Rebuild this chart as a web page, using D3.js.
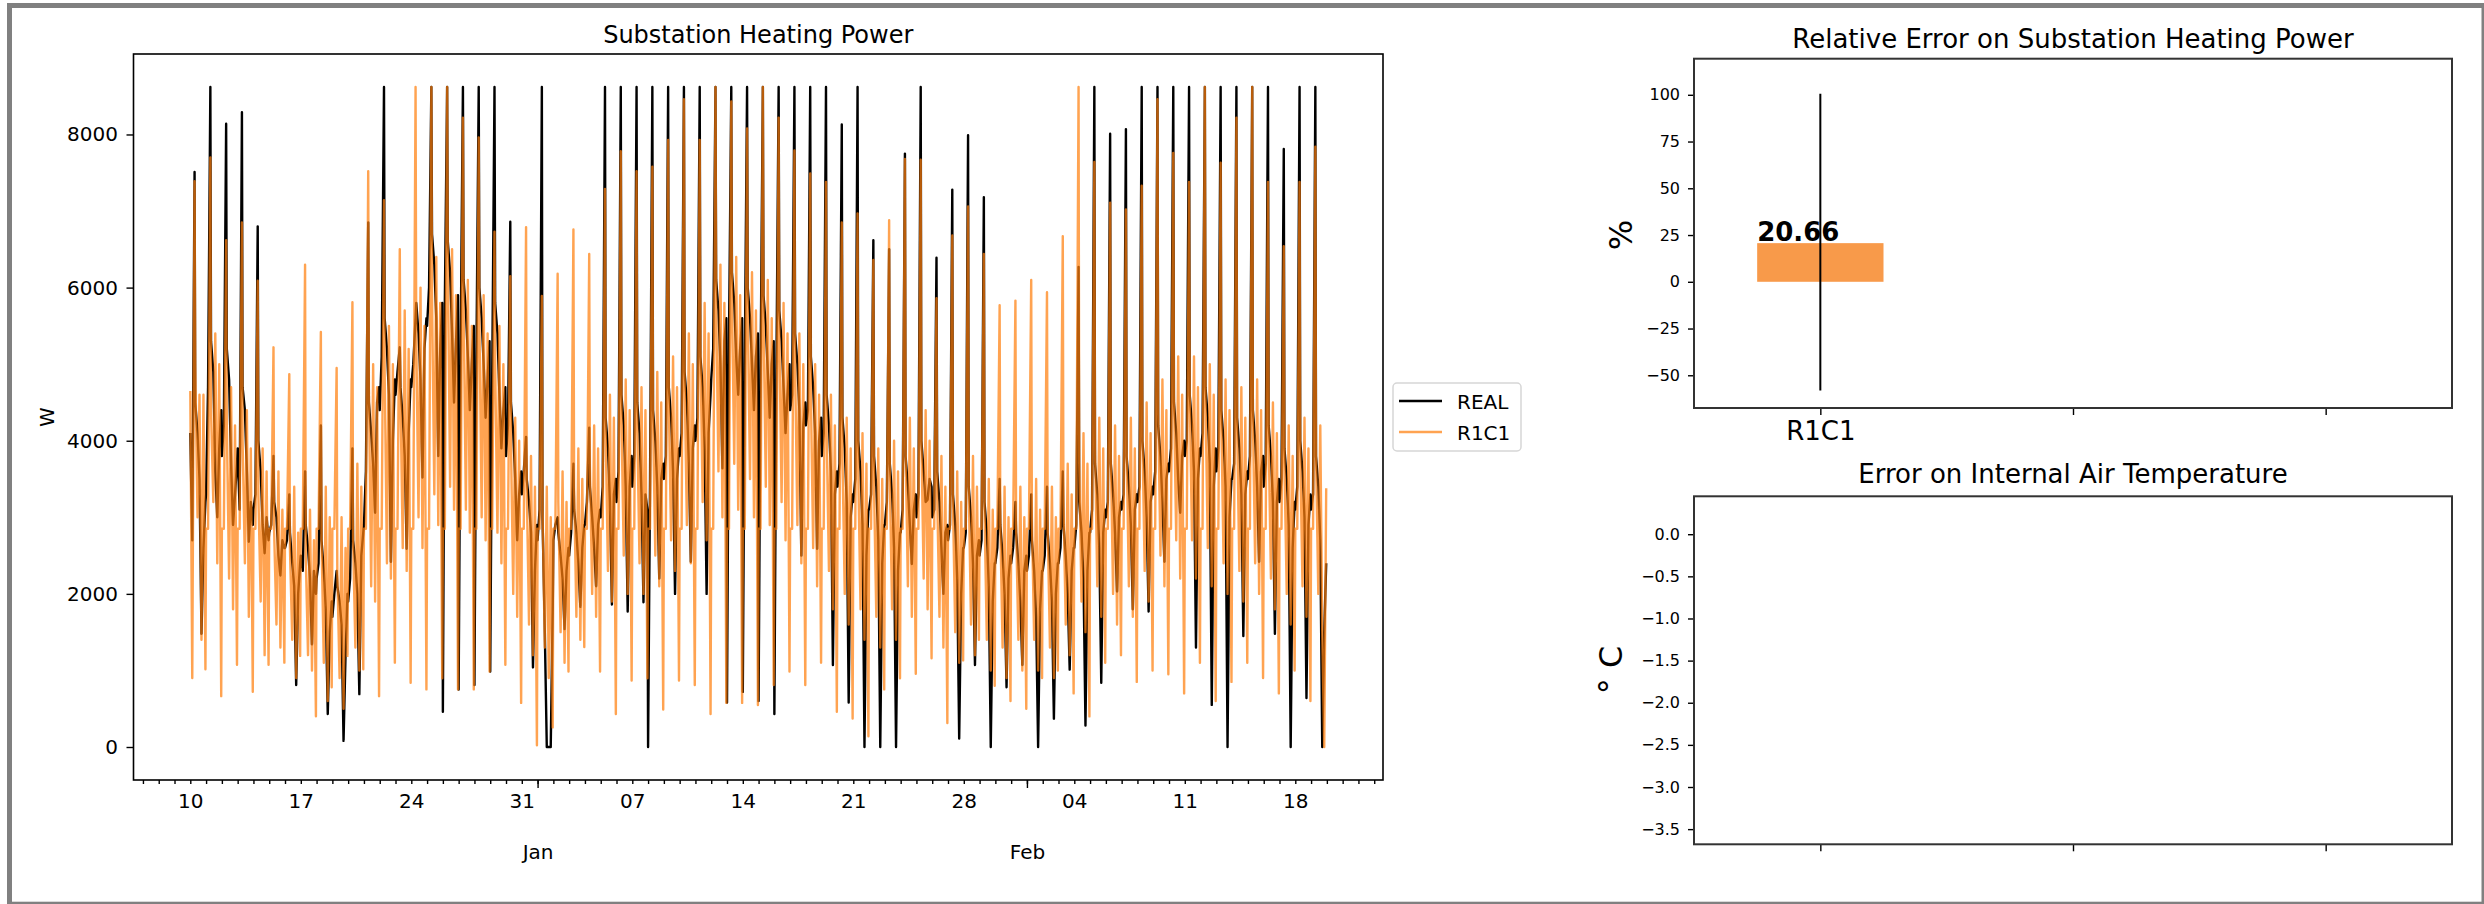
<!DOCTYPE html>
<html>
<head>
<meta charset="utf-8">
<script src="https://cdn.jsdelivr.net/npm/d3@7"></script>
<style>
  body { margin: 0; background: #fff; }
  svg { display: block; font-family: "DejaVu Sans", sans-serif; }
</style>
</head>
<body>
<svg id="chart" width="2484" height="904"></svg>
<script>
// one row per day from 2018-12-10, one value per hour slot
const startDay = Date.UTC(2018, 11, 10);
const hourSlots = [0, 3, 6.5, 7.5, 11, 14, 17, 20, 23];

const realW = [
  4100, 2700, 7510, 4500, 4100, 3500, 1480, 2600, 3200,
  3300, 4700, 8620, 5300, 4900, 3600, 3000, 3900, 4400,
  3800, 4200, 8140, 5200, 4800, 3700, 2900, 3300, 3700,
  3900, 3100, 8290, 4700, 4400, 3600, 2680, 3200, 2900,
  3100, 3300, 6800, 4000, 3600, 2900, 2530, 3000, 2700,
  2800, 2900, 3800, 3200, 3000, 2500, 2240, 2700, 2600,
  2600, 2700, 3300, 2800, 2400, 2100, 810, 2000, 2400,
  2500, 2300, 3600, 2900, 2600, 2200, 1340, 2300, 2000,
  2200, 2400, 4200, 2700, 2300, 1800, 430, 1500, 1900,
  1700, 2000, 2300, 2100, 1900, 1600, 80, 1200, 2000,
  1900, 2200, 3900, 2700, 2400, 2000, 690, 2500, 2800,
  2900, 3600, 6850, 4500, 4100, 3700, 3060, 4500, 4700,
  4400, 5100, 8620, 5600, 5200, 4600, 2420, 4000, 4800,
  4600, 4900, 5220, 4700, 4300, 3800, 2590, 4100, 4800,
  4700, 5000, 5600, 5800, 5400, 4800, 3520, 5200, 5600,
  5500, 6000, 8620, 6700, 6300, 5600, 3800, 5200, 5800,
  460, 5800, 8620, 6600, 6200, 5400, 4500, 5300, 5900,
  750, 5200, 8620, 6100, 5700, 5100, 4400, 5000, 5500,
  810, 5100, 8620, 6000, 5600, 5000, 4300, 4800, 5300,
  985, 4800, 8620, 5800, 5400, 4600, 3900, 4400, 4700,
  3800, 4200, 6860, 4500, 4100, 3500, 2700, 3300, 3600,
  3300, 3600, 4050, 3500, 3200, 2800, 1040, 2300, 2900,
  2700, 3100, 8620, 3000, 1500, 0, 0, 0, 1800,
  2700, 2900, 3000, 2800, 2500, 2200, 1540, 2300, 2600,
  2500, 2800, 3700, 3100, 2800, 2400, 1830, 2600, 2900,
  2900, 3200, 4170, 3400, 3000, 2600, 2100, 2900, 3100,
  3000, 3400, 8620, 4300, 3900, 3200, 1860, 3300, 3500,
  3200, 3600, 8620, 4600, 4200, 3400, 1770, 3400, 3800,
  3400, 3800, 8620, 4500, 4100, 3300, 1890, 3300, 3100,
  0, 3500, 8620, 4400, 4000, 3400, 2200, 3500, 3700,
  3500, 3800, 8620, 4700, 4300, 3600, 2000, 3500, 3900,
  3800, 4100, 8620, 4900, 4500, 3700, 2420, 3900, 4200,
  4000, 4300, 8620, 5100, 4700, 3900, 2000, 4100, 4600,
  4800, 5200, 8620, 6100, 5700, 5000, 3640, 5300, 5600,
  580, 5300, 8620, 6200, 5800, 5100, 4600, 5200, 5600,
  720, 5000, 8620, 6000, 5600, 5000, 4400, 5100, 5400,
  600, 4900, 8620, 5900, 5500, 4900, 4300, 5000, 5300,
  430, 4800, 8620, 5700, 5300, 4700, 4100, 4600, 5000,
  4400, 4600, 8620, 5400, 5000, 4400, 2500, 4200, 4500,
  4200, 4400, 8620, 5100, 4700, 4100, 2590, 4000, 4300,
  3800, 4100, 8620, 4600, 4200, 3600, 1070, 3300, 3600,
  3400, 3700, 8130, 4300, 3900, 3200, 580, 3000, 3300,
  3200, 3500, 8620, 4000, 3600, 2900, 0, 2500, 3100,
  3100, 3300, 6620, 3800, 3400, 2700, 0, 2400, 2900,
  2900, 3200, 6500, 3700, 3300, 2600, 0, 2300, 2800,
  2800, 3100, 7750, 3800, 3400, 2900, 2390, 3100, 3300,
  3000, 3300, 8620, 4000, 3600, 3200, 3230, 3500, 3400,
  3000, 3100, 6390, 3600, 3200, 2600, 2000, 2800, 2900,
  2700, 2900, 7280, 3300, 2900, 2200, 110, 2000, 2600,
  2600, 2800, 7990, 3400, 3000, 2400, 1070, 2500, 2700,
  2500, 2700, 7180, 3200, 2800, 2100, 0, 1900, 2400,
  2400, 2600, 3500, 2900, 2500, 2000, 780, 2200, 2500,
  2400, 2600, 3200, 2800, 2400, 1900, 1070, 2300, 2500,
  2300, 2500, 3300, 2700, 2300, 1700, 0, 1800, 2300,
  2300, 2500, 3400, 2800, 2400, 1900, 370, 2000, 2400,
  2400, 2600, 3600, 2900, 2500, 2000, 1010, 2300, 2600,
  2600, 2900, 6270, 3200, 2800, 2200, 280, 2300, 2800,
  2800, 3100, 8620, 3700, 3300, 2600, 840, 2800, 3100,
  3000, 3200, 8010, 3700, 3300, 2800, 2030, 3000, 3200,
  3100, 3300, 8070, 3800, 3400, 2900, 1800, 3100, 3300,
  3200, 3400, 8620, 4000, 3600, 3000, 1770, 3200, 3400,
  3300, 3600, 8620, 4200, 3800, 3200, 2420, 3500, 3700,
  3600, 3900, 8620, 4500, 4100, 3500, 3060, 3800, 4000,
  3800, 4000, 8620, 4600, 4200, 3600, 1300, 3500, 3900,
  3800, 4100, 8620, 4700, 4300, 3700, 550, 3400, 3900,
  3600, 3900, 8620, 4400, 4000, 3400, 0, 3000, 3500,
  3500, 3700, 8620, 4300, 3900, 3300, 1450, 3300, 3600,
  3500, 3800, 8620, 4400, 4000, 3400, 2420, 3600, 3800,
  3400, 3700, 8620, 4200, 3800, 3200, 1480, 3200, 3500,
  3200, 3500, 7810, 3900, 3500, 2900, 0, 2600, 3200,
  3100, 3400, 8620, 4000, 3600, 3000, 640, 2900, 3300,
  3100, 3300, 8620, 3800, 3400, 2700, 0, 1500, 2400
];

const r1c1W = [
  4650, 900, 7390, 5000, 3000, 4600, 1400, 4600, 1014,
  2850, 2850, 7700, 4400, 3200, 5400, 2400, 5000, 664,
  2850, 2850, 6620, 4200, 2200, 4700, 1800, 4200, 1073,
  2850, 2850, 6850, 4000, 2400, 4400, 1700, 3900, 722,
  2850, 2850, 6090, 3300, 1900, 3900, 1200, 3600, 1073,
  2850, 2850, 5220, 2800, 1600, 3600, 1300, 3100, 1102,
  2850, 2850, 4870, 2600, 1400, 3400, 900, 2800, 1190,
  2850, 2850, 6300, 2500, 1200, 3100, 1000, 2700, 402,
  2850, 2850, 5420, 2700, 1100, 3400, 600, 3000, 780,
  2850, 2850, 4950, 2300, 900, 3000, 500, 2600, 1190,
  2850, 2850, 5810, 2700, 1300, 3700, 1000, 3400, 1014,
  2850, 2850, 7520, 4700, 2100, 5000, 1900, 4700, 664,
  2850, 2850, 7140, 4900, 2400, 5500, 2200, 5000, 1102,
  2850, 2850, 6500, 4600, 2600, 5700, 2300, 5200, 840,
  2850, 2850, 8620, 5400, 3000, 6000, 2600, 5500, 752,
  2850, 2850, 8620, 5900, 3300, 6400, 2900, 5800, 898,
  2850, 2850, 8620, 6400, 3400, 6500, 3100, 5900, 752,
  2850, 2850, 8220, 5800, 3100, 6100, 2800, 5500, 752,
  2850, 2850, 7960, 5600, 3000, 5900, 2700, 5400, 985,
  2850, 2850, 6730, 5000, 2800, 5500, 2400, 5000, 1073,
  2850, 2850, 6150, 4000, 2000, 4300, 1700, 4000, 576,
  2850, 2850, 6790, 3400, 1600, 3800, 1200, 3400, 22,
  2850, 2850, 5890, 3100, 1300, 3400, 900, 3000, 256,
  2850, 2850, 6180, 3200, 1500, 3600, 1100, 3200, 985,
  2850, 2850, 6760, 3400, 1700, 3900, 1400, 3500, 1306,
  2850, 2850, 6440, 3700, 2000, 4200, 1700, 3900, 985,
  2850, 2850, 7290, 4100, 2300, 4600, 1900, 4300, 431,
  2850, 2850, 7780, 4300, 2500, 4800, 2000, 4400, 869,
  2850, 2850, 7520, 4200, 2400, 4700, 2000, 4400, 898,
  2850, 2850, 7580, 4300, 2500, 4900, 2100, 4500, 489,
  2850, 2850, 7930, 4500, 2700, 5100, 2300, 4700, 869,
  2850, 2850, 8460, 4800, 2900, 5400, 2400, 5000, 810,
  2850, 2850, 7930, 5200, 3200, 5800, 2700, 5400, 431,
  2850, 2850, 8620, 5800, 3600, 6300, 3000, 5800, 576,
  2850, 2850, 8430, 5900, 3700, 6400, 3100, 5900, 576,
  2850, 2850, 8080, 5700, 3500, 6200, 3000, 5700, 547,
  2850, 2850, 8620, 5600, 3400, 6100, 2900, 5600, 810,
  2850, 2850, 8220, 5400, 3200, 5800, 2700, 5400, 985,
  2850, 2850, 7790, 5000, 2900, 5400, 2400, 5000, 810,
  2850, 2850, 7490, 4600, 2600, 5000, 2100, 4600, 1102,
  2850, 2850, 7380, 4100, 2300, 4600, 1800, 4200, 460,
  2850, 2850, 6850, 3800, 2000, 4300, 1600, 3900, 372,
  2850, 2850, 6970, 3600, 1800, 4100, 1400, 3700, 139,
  2850, 2850, 6360, 3400, 1700, 3900, 1300, 3500, 752,
  2850, 2850, 6880, 3500, 1800, 4000, 1400, 3600, 898,
  2850, 2850, 7680, 3900, 2100, 4300, 1700, 3900, 956,
  2850, 2850, 7670, 4000, 2200, 4400, 1800, 4000, 1160,
  2850, 2850, 5860, 3300, 1700, 3800, 1300, 3400, 314,
  2850, 2850, 6680, 3200, 1500, 3600, 1100, 3200, 1131,
  2850, 2850, 7060, 3400, 1600, 3800, 1200, 3400, 1400,
  2850, 2850, 6440, 3100, 1400, 3500, 1000, 3100, 800,
  2850, 2850, 5770, 2900, 1300, 3400, 900, 3000, 600,
  2850, 2850, 5830, 2900, 1400, 3400, 1000, 3000, 500,
  2850, 2850, 6100, 3000, 1400, 3500, 1000, 3100, 900,
  2850, 2850, 5940, 2900, 1300, 3400, 900, 3000, 1000,
  2850, 2850, 6670, 3200, 1600, 3700, 1200, 3300, 700,
  2850, 2850, 8620, 3700, 1900, 4100, 1500, 3700, 400,
  2850, 2850, 7640, 3900, 2100, 4300, 1700, 3900, 1100,
  2850, 2850, 7110, 3800, 2000, 4200, 1600, 3800, 1200,
  2850, 2850, 7020, 3900, 2100, 4300, 1700, 3900, 850,
  2850, 2850, 7330, 4100, 2300, 4500, 1900, 4100, 1000,
  2850, 2850, 8460, 4400, 2500, 4800, 2100, 4400, 950,
  2850, 2850, 7760, 4600, 2700, 5100, 2200, 4600, 700,
  2850, 2850, 7380, 4600, 2700, 5100, 2200, 4700, 1100,
  2850, 2850, 8620, 4500, 2600, 5000, 2100, 4600, 600,
  2850, 2850, 7630, 4300, 2400, 4800, 2000, 4400, 850,
  2850, 2850, 8220, 4200, 2300, 4700, 1900, 4300, 1100,
  2850, 2850, 8620, 4300, 2400, 4800, 2000, 4400, 900,
  2850, 2850, 7380, 4000, 2200, 4500, 1800, 4100, 700,
  2850, 2850, 6540, 3700, 2000, 4200, 1600, 3800, 1000,
  2850, 2850, 7380, 3800, 2100, 4300, 1700, 3900, 600,
  2850, 2850, 7840, 3800, 2000, 4200, 1500, 0, 3380
];

const seriesNames = ["REAL", "R1C1"];
const leftTicks = [0, 2000, 4000, 6000, 8000];

// right hand panels
const models = ["R1C1", "", ""];
const relErr = [20.66];
const relErrLow = [-58.1];
const relErrHigh = [100.6];
const relErrLim = [-67.5, 119.3];
const relErrTicks = [-50, -25, 0, 25, 50, 75, 100];
const tempErrLim = [-3.68, 0.45];
const tempErrTicks = [-3.5, -3.0, -2.5, -2.0, -1.5, -1.0, -0.5, 0.0];

const BLACK = "#000";
const ORANGE = "#ff7f0e";
const BAR = "#f89a4a";

const svg = d3.select("#chart");

// frame of the screenshot
const frame = svg.append("g").attr("fill", "#808080");
frame.append("rect").attr("x", 7).attr("y", 3).attr("width", 2477).attr("height", 5);
frame.append("rect").attr("x", 7).attr("y", 3).attr("width", 5).attr("height", 901);
frame.append("rect").attr("x", 2481.5).attr("y", 3).attr("width", 2.5).attr("height", 901);
frame.append("rect").attr("x", 7).attr("y", 901.7).attr("width", 2477).attr("height", 2.3);

const toSeries = vals => vals.map((v, i) => ({
    t: new Date(startDay + (Math.floor(i / hourSlots.length) * 24 + hourSlots[i % hourSlots.length]) * 3600e3),
    v: v
}));
const series = [toSeries(realW), toSeries(r1c1W)];

const styleAxis = (g, size) => {
    g.select(".domain").remove();
    g.selectAll("text").attr("font-family", "DejaVu Sans").attr("font-size", size).attr("fill", "#000");
    g.selectAll("line").attr("stroke", "#000").attr("stroke-width", 1.4);
    g.attr("font-family", null).attr("font-size", null);
};

// ---------- left: time series ----------
const L = { x0: 133.5, x1: 1383, y0: 54, y1: 780 };
const tExt = d3.extent(series[0], d => d.t);
const tPad = (tExt[1] - tExt[0]) * 0.05;
const x = d3.scaleUtc()
    .domain([new Date(+tExt[0] - tPad), new Date(+tExt[1] + tPad)])
    .range([L.x0, L.x1]);
const vMin = d3.min([...realW, ...r1c1W]);
const vMax = d3.max([...realW, ...r1c1W]);
const vPad = (vMax - vMin) * 0.05;
const y = d3.scaleLinear().domain([vMin - vPad, vMax + vPad]).range([L.y1, L.y0]);

const fmtDay = d3.utcFormat("%d");
svg.append("g")
    .attr("transform", `translate(0,${L.y1})`)
    .call(d3.axisBottom(x).ticks(d3.utcDay.every(1)).tickSize(4).tickPadding(10)
        .tickFormat(d => d.getUTCDay() === 1 ? fmtDay(d) : ""))
    .call(g => styleAxis(g, 20));
svg.append("g")
    .attr("transform", `translate(0,${L.y1})`)
    .call(d3.axisBottom(x).ticks(d3.utcMonth.every(1)).tickSize(8).tickPadding(57)
        .tickFormat(d3.utcFormat("%b")))
    .call(g => styleAxis(g, 20));
svg.append("g")
    .attr("transform", `translate(${L.x0},0)`)
    .call(d3.axisLeft(y).tickValues(leftTicks).tickSize(7).tickPadding(8.5).tickFormat(d3.format("d")))
    .call(g => styleAxis(g, 20));

const line = d3.line().x(d => x(d.t)).y(d => y(d.v));
svg.append("path").datum(series[0]).attr("d", line)
    .attr("fill", "none").attr("stroke", BLACK).attr("stroke-width", 2.4).attr("stroke-linejoin", "round");
svg.append("path").datum(series[1]).attr("d", line)
    .attr("fill", "none").attr("stroke", ORANGE).attr("stroke-opacity", 0.72)
    .attr("stroke-width", 2.4).attr("stroke-linejoin", "round");

svg.append("rect").attr("x", L.x0).attr("y", L.y0).attr("width", L.x1 - L.x0).attr("height", L.y1 - L.y0)
    .attr("fill", "none").attr("stroke", "#000").attr("stroke-width", 1.6);

svg.append("text").attr("x", (L.x0 + L.x1) / 2).attr("y", 43).attr("text-anchor", "middle")
    .attr("font-size", 24).text("Substation Heating Power");
svg.append("text").attr("transform", "translate(53.5,417) rotate(-90)").attr("text-anchor", "middle")
    .attr("font-size", 20).text("W");

// legend
const leg = svg.append("g");
leg.append("rect").attr("x", 1393).attr("y", 383).attr("width", 128).attr("height", 68).attr("rx", 4)
    .attr("fill", "#fff").attr("stroke", "#d6d6d6").attr("stroke-width", 1.5);
seriesNames.forEach((name, i) => {
    const ly = 401 + i * 31;
    leg.append("line").attr("x1", 1399).attr("x2", 1442).attr("y1", ly).attr("y2", ly)
        .attr("stroke", i === 0 ? BLACK : ORANGE).attr("stroke-opacity", i === 0 ? 1 : 0.72)
        .attr("stroke-width", 2.4);
    leg.append("text").attr("x", 1457).attr("y", ly + 7.5).attr("font-size", 20).text(name);
});

// ---------- right panels ----------
const R = { x0: 1694, x1: 2452 };
const xb = d3.scaleLinear().domain([-0.5, models.length - 0.5]).range([R.x0, R.x1]);

function panel(top, bottom, lim, ticks, fmt, title, titleY, ylabel, labelY, showNames) {
    const yy = d3.scaleLinear().domain(lim).range([bottom, top]);
    svg.append("g")
        .attr("transform", `translate(${R.x0},0)`)
        .call(d3.axisLeft(yy).tickValues(ticks).tickSize(6).tickPadding(8)
            .tickFormat(d => fmt(d).replace("-", "\u2212")))
        .call(g => styleAxis(g, 16));
    svg.append("g")
        .attr("transform", `translate(0,${bottom})`)
        .call(d3.axisBottom(xb).tickValues(d3.range(models.length)).tickSize(7).tickPadding(6.5)
            .tickFormat(i => showNames ? models[i] : ""))
        .call(g => styleAxis(g, 26));
    svg.append("text").attr("x", (R.x0 + R.x1) / 2).attr("y", titleY).attr("text-anchor", "middle")
        .attr("font-size", 26).text(title);
    svg.append("text").attr("transform", `translate(${labelY[0]},${labelY[1]}) rotate(-90)`)
        .attr("text-anchor", "middle").attr("font-size", 32).text(ylabel);
    return yy;
}

const y1 = panel(58.7, 408, relErrLim, relErrTicks, d3.format("d"),
    "Relative Error on Substation Heating Power", 47.5, "%", [1632, 235], true);

svg.append("g").selectAll("rect").data(relErr).join("rect")
    .attr("x", (d, i) => xb(i - 0.25)).attr("width", xb(0.25) - xb(-0.25))
    .attr("y", d => y1(Math.max(0, d))).attr("height", d => Math.abs(y1(d) - y1(0)))
    .attr("fill", BAR);
svg.append("g").selectAll("line").data(relErr).join("line")
    .attr("x1", (d, i) => xb(i)).attr("x2", (d, i) => xb(i))
    .attr("y1", (d, i) => y1(relErrLow[i])).attr("y2", (d, i) => y1(relErrHigh[i]))
    .attr("stroke", "#000").attr("stroke-width", 2);
svg.append("g").selectAll("text").data(relErr).join("text")
    .attr("x", (d, i) => xb(i - 0.25)).attr("y", d => y1(d) - 2)
    .attr("font-size", 26).attr("font-weight", "bold").text(d => d.toFixed(2));

svg.append("rect").attr("x", R.x0).attr("y", 58.7).attr("width", R.x1 - R.x0).attr("height", 408 - 58.7)
    .attr("fill", "none").attr("stroke", "#333").attr("stroke-width", 2);

panel(496.3, 844.3, tempErrLim, tempErrTicks, d3.format(".1f"),
    "Error on Internal Air Temperature", 483, "\u00b0 C", [1622, 670], false);
svg.append("rect").attr("x", R.x0).attr("y", 496.3).attr("width", R.x1 - R.x0).attr("height", 844.3 - 496.3)
    .attr("fill", "none").attr("stroke", "#333").attr("stroke-width", 2);
</script>
</body>
</html>
